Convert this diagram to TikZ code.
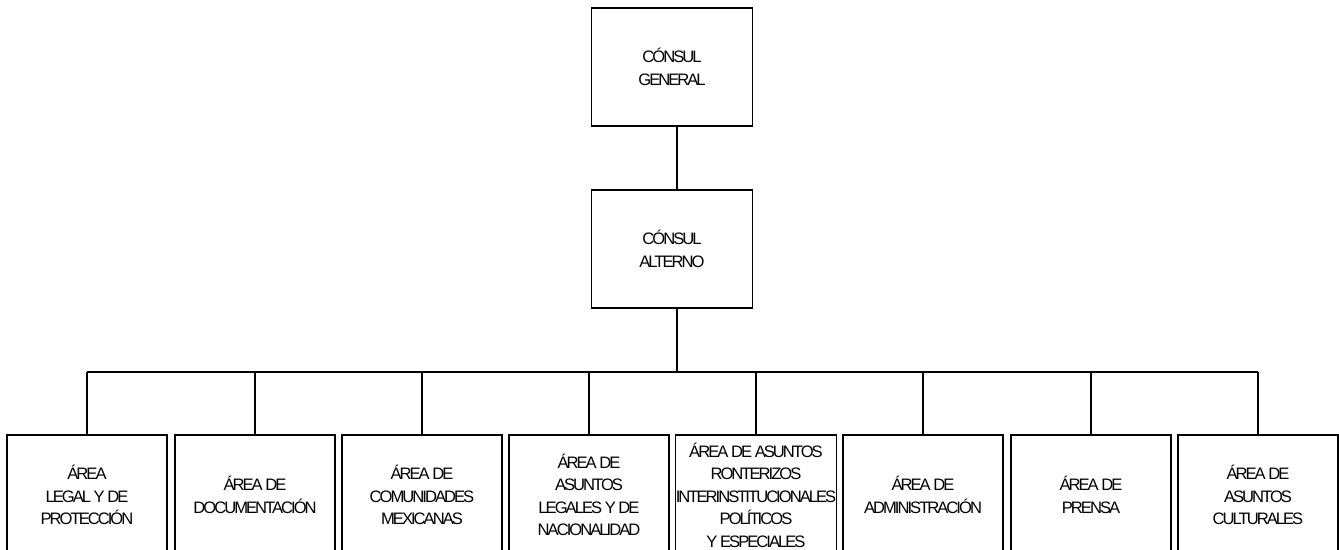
\documentclass[tikz,border=0pt]{standalone}
\usepackage{fontspec}
\newfontfamily\orgfont{Liberation Sans}[LetterSpace=-12]
\begin{document}
\begin{tikzpicture}[x=0.5pt,y=-0.5pt,
  box/.style={draw, line width=0.6pt, minimum width=80pt, minimum height=60pt,
    inner sep=0pt, align=center, font=\orgfont\fontsize{8.3}{11.25}\selectfont},
  topbox/.style={box, minimum width=80.5pt, minimum height=59pt},
  link/.style={draw, line width=0.6pt}]
\useasboundingbox (0,0) rectangle (1339,550);
\clip (0,0) rectangle (1339,550);
\node[topbox] (gen) at (672,67) {CÓNSUL\\GENERAL};
\node[topbox] (alt) at (672,249) {CÓNSUL\\ALTERNO};
\node[box] (b1) at (87,495) {ÁREA\\LEGAL Y DE\\PROTECCIÓN};
\node[box] (b2) at (255,495) {ÁREA DE\\DOCUMENTACIÓN};
\node[box] (b3) at (422,495) {ÁREA DE\\COMUNIDADES\\MEXICANAS};
\node[box] (b4) at (589,495) {ÁREA DE\\ASUNTOS\\LEGALES Y DE\\NACIONALIDAD};
\node[box] (b5) at (756,495) {ÁREA DE ASUNTOS\\RONTERIZOS\\INTERINSTITUCIONALES\\POLÍTICOS\\Y ESPECIALES};
\node[box] (b6) at (923,495) {ÁREA DE\\ADMINISTRACIÓN};
\node[box] (b7) at (1091,495) {ÁREA DE\\PRENSA};
\node[box] (b8) at (1258,495) {ÁREA DE\\ASUNTOS\\CULTURALES};
\coordinate (bar) at (0,372);
\path[link] ([xshift=2.5pt]gen.south) -- ([xshift=2.5pt]alt.north);
\path[link] ([xshift=2.5pt]alt.south) -- ([xshift=2.5pt,yshift=-0.5pt]alt.south |- bar);
\path[link] (b1.north |- bar) -- (b8.north |- bar);
\foreach \b in {b1,b2,b3,b4,b5,b6,b7,b8}{
  \path[link] (\b.north) -- (\b.north |- bar);
}
\end{tikzpicture}
\end{document}
